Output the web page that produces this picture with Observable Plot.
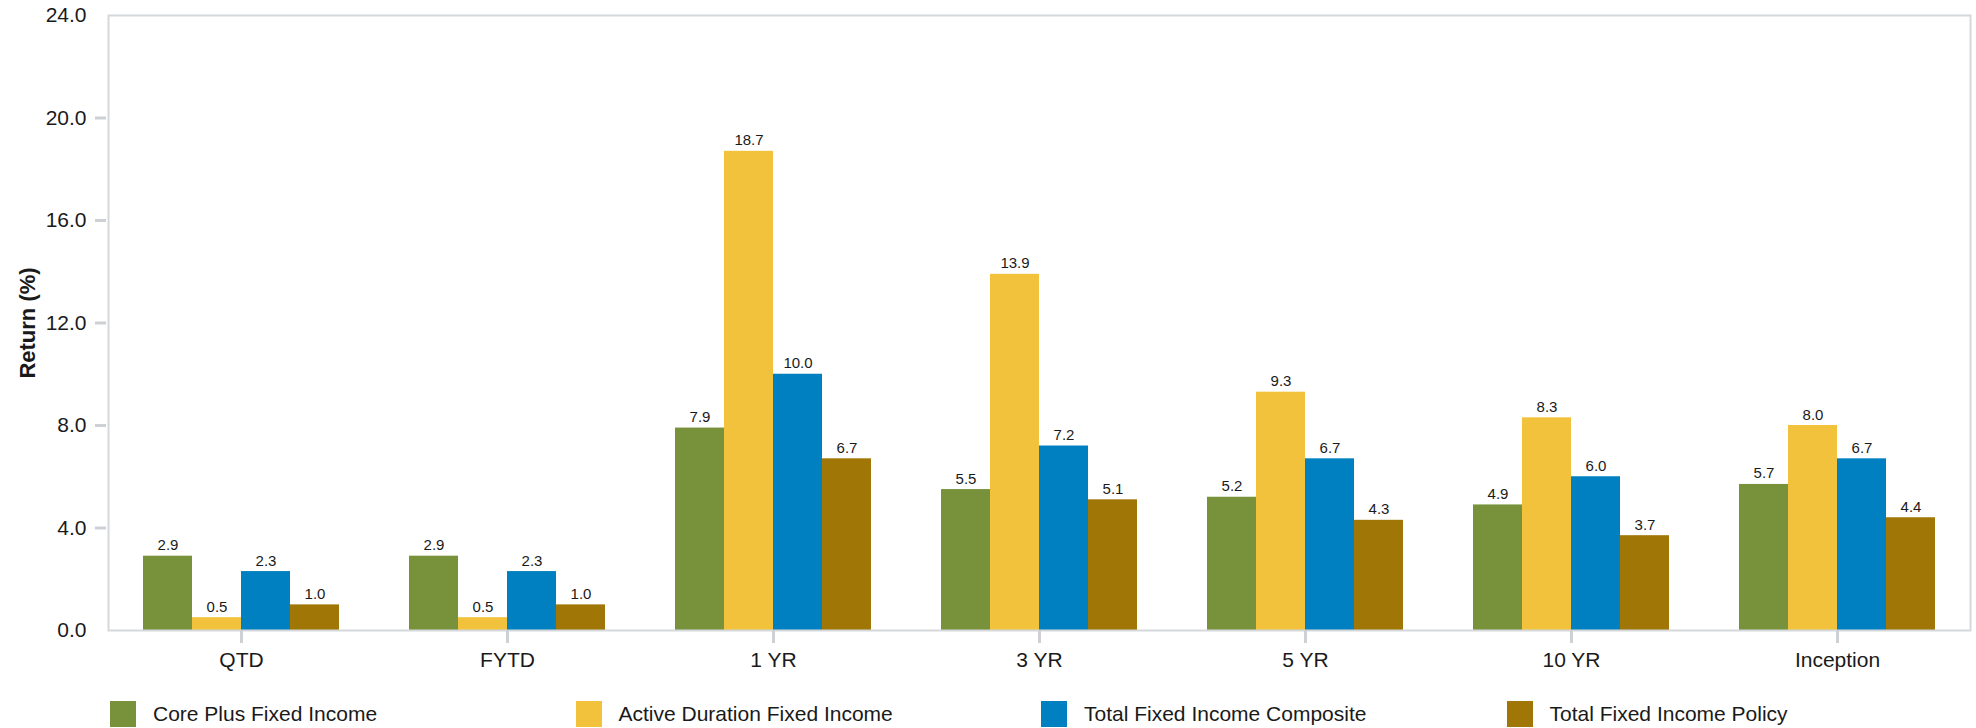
<!DOCTYPE html>
<html>
<head>
<meta charset="utf-8">
<script src="https://cdn.jsdelivr.net/npm/d3@7"></script>
<script src="https://cdn.jsdelivr.net/npm/@observablehq/plot@0.6"></script>
<style>
  body { margin: 0; background: #fff; font-family: "Liberation Sans", Arial, sans-serif; }
  #chart svg { display: block; }
  .legend { display: flex; padding: 14px 0 0 110px; height: 29px; }
  .legend .item { width: 465.5px; display: flex; align-items: center; font-size: 21px; color: #1a1a1a; }
  .legend .sw { width: 26px; height: 26px; margin-right: 17px; flex: none; }
</style>
</head>
<body>
<div id="chart"></div>
<script>
// Periods along the horizontal axis
const periods = ["QTD", "FYTD", "1 YR", "3 YR", "5 YR", "10 YR", "Inception"];

// Series names and their colours
const seriesNames = [
  "Core Plus Fixed Income",
  "Active Duration Fixed Income",
  "Total Fixed Income Composite",
  "Total Fixed Income Policy"
];
const seriesColors = ["#78923c", "#f2c23c", "#0080c0", "#a07606"];

// Returns (%) per period, one array per series
const corePlus       = [2.9, 2.9, 7.9, 5.5, 5.2, 4.9, 5.7];
const activeDuration = [0.5, 0.5, 18.7, 13.9, 9.3, 8.3, 8.0];
const composite      = [2.3, 2.3, 10.0, 7.2, 6.7, 6.0, 6.7];
const policy         = [1.0, 1.0, 6.7, 5.1, 4.3, 3.7, 4.4];

// Y axis tick values
const yTicks = [0, 4, 8, 12, 16, 20, 24];
const yTickMarks = [4, 8, 12, 16, 20];

const seriesValues = [corePlus, activeDuration, composite, policy];
const rows = [];
periods.forEach((p, i) => {
  seriesNames.forEach((s, j) => rows.push({period: p, series: s, value: seriesValues[j][i]}));
});

const font = '"Liberation Sans", Arial, sans-serif';
const gray = "#cdd1d5";

const chart = Plot.plot({
  width: 1976,
  height: 685,
  marginLeft: 106,
  marginRight: 5,
  marginTop: 15,
  marginBottom: 55,
  style: {fontFamily: font, color: "#1a1a1a", background: "#fff"},
  // facets fill the full width; the gap between groups comes from the inner x scale
  fx: {domain: periods, padding: 0, label: null},
  x: {domain: seriesNames, paddingInner: 0, paddingOuter: 2 / 3, axis: null},
  y: {domain: [0, 24], label: null},
  color: {domain: seriesNames, range: seriesColors},
  marks: [
    Plot.barY(rows, {fx: "period", x: "series", y: "value", fill: "series"}),
    Plot.text(rows, {
      fx: "period", x: "series", y: "value",
      text: d => d.value.toFixed(1),
      lineAnchor: "bottom", dy: -6, fontSize: 15, fill: "#1a1a1a"
    }),
    Plot.frame({facet: "super", stroke: "#d5d8db", strokeWidth: 2}),
    Plot.axisY({
      ticks: yTicks, tickSize: 0, tickPadding: 22,
      tickFormat: d3.format(".1f"), fontSize: 21, label: null
    }),
    Plot.axisY({
      ticks: yTickMarks, tickSize: 11, dx: -2,
      tickFormat: () => "", stroke: gray, strokeWidth: 3, strokeOpacity: 1, label: null
    }),
    Plot.axisFx({
      anchor: "bottom",
      tickSize: 13, tickPadding: 9, fontSize: 21, label: null,
      stroke: gray, strokeWidth: 3, strokeOpacity: 1
    }),
    Plot.text(["Return (%)"], {
      facet: "super", frameAnchor: "left", dx: -81, rotate: -90,
      textAnchor: "middle", lineAnchor: "middle",
      fontSize: 22, fontWeight: "bold", fill: "#1a1a1a"
    })
  ]
});

document.getElementById("chart").append(chart);

// Legend below the chart
const legend = document.createElement("div");
legend.className = "legend";
seriesNames.forEach((s, j) => {
  const item = document.createElement("div");
  item.className = "item";
  const sw = document.createElement("span");
  sw.className = "sw";
  sw.style.background = seriesColors[j];
  const label = document.createElement("span");
  label.textContent = s;
  item.append(sw, label);
  legend.append(item);
});
document.getElementById("chart").append(legend);
</script>
</body>
</html>
